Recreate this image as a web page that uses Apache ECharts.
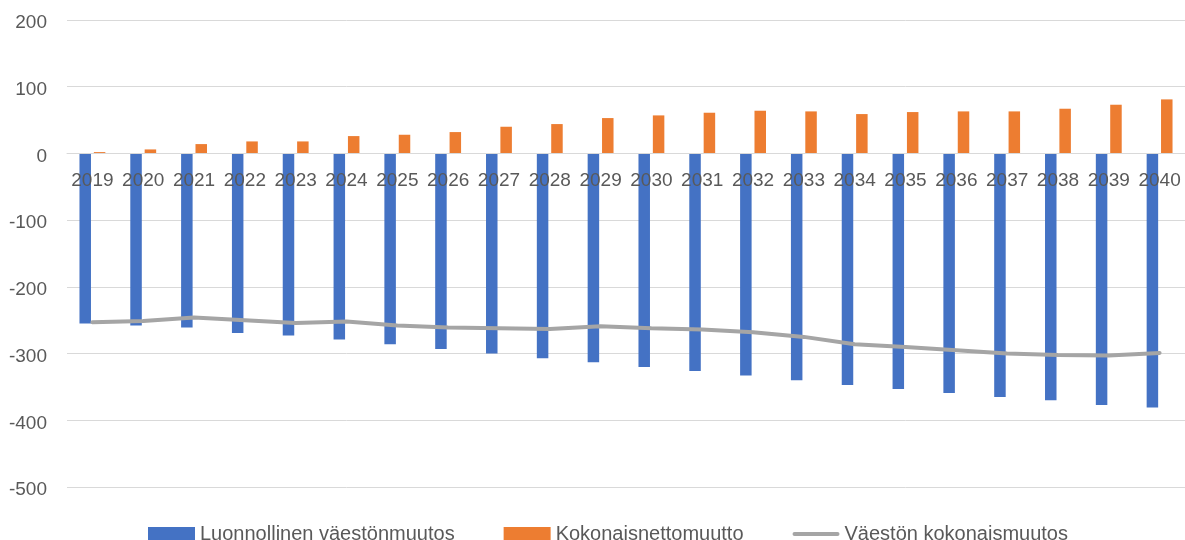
<!DOCTYPE html>
<html>
<head>
<meta charset="utf-8">
<script src="https://cdn.jsdelivr.net/npm/echarts@6/dist/echarts.min.js"></script>
<style>
html,body{margin:0;padding:0;background:#fff;}
#chart{width:1185px;height:540px;}
</style>
</head>
<body>
<div id="chart"></div>
<script>
const years = ['2019','2020','2021','2022','2023','2024','2025','2026','2027','2028','2029','2030','2031','2032','2033','2034','2035','2036','2037','2038','2039','2040'];
const luonnollinen = [-255,-258,-261,-269,-273,-279,-286,-293,-300,-307,-313,-320,-326,-333,-340,-347,-353,-359,-365,-370,-377,-381];
const nettomuutto = [2,6,14,18,18,26,28,32,40,44,53,57,61,64,63,59,62,63,63,67,73,81];
const kokonaismuutos = [-253,-251,-246,-250,-254,-252,-258,-261,-262,-263,-259,-262,-264,-268,-275,-286,-290,-295,-300,-302,-303,-299];
const seriesNames = ['Luonnollinen väestönmuutos','Kokonaisnettomuutto','Väestön kokonaismuutos'];
const yMin = -500, yMax = 200, yStep = 100;

const chart = echarts.init(document.getElementById('chart'), null, {renderer:'canvas'});
const font = 'Liberation Sans, Arial, sans-serif';
const gridTop = 20, gridBottom = 53;
const plotH = 540 - gridTop - gridBottom;
// offset moves x axis from bottom up to the zero line
const zeroOffset = -plotH * (0 - yMin) / (yMax - yMin);

chart.setOption({
  animation:false,
  backgroundColor:'#ffffff',
  grid:{left:67,right:-2,top:gridTop,bottom:gridBottom,containLabel:false},
  legend:{
    left:143, top:519,
    itemWidth:47, itemHeight:14, itemGap:49, itemTextGap:5,
    textStyle:{fontFamily:font,fontSize:20,color:'#595959'},
    data:[
      {name:seriesNames[0],icon:'rect'},
      {name:seriesNames[1],icon:'rect'},
      {name:seriesNames[2],icon:'path://M2,0h43a2,2 0 0 1 0,4h-43a2,2 0 0 1 0,-4z'}
    ]
  },
  xAxis:{
    type:'category',
    data:years,
    z:10,
    position:'bottom',
    offset:zeroOffset,
    axisLine:{onZero:false,lineStyle:{color:'#D9D9D9',width:1}},
    axisTick:{show:false},
    axisLabel:{color:'#595959',fontFamily:font,fontSize:19,margin:18,interval:0}
  },
  yAxis:{
    type:'value',
    min:yMin,max:yMax,interval:yStep,
    axisLine:{show:false},
    axisTick:{show:false},
    splitLine:{lineStyle:{color:'#D9D9D9',width:1}},
    axisLabel:{color:'#595959',fontFamily:font,fontSize:19,margin:20,verticalAlign:'top',lineHeight:6}
  },
  series:[
    {name:seriesNames[0],type:'bar',data:luonnollinen,barWidth:11.5,barGap:'25%',
     itemStyle:{color:'#4472C4'}},
    {name:seriesNames[1],type:'bar',data:nettomuutto,barWidth:11.5,barGap:'25%',
     itemStyle:{color:'#ED7D31'}},
    {name:seriesNames[2],type:'line',data:kokonaismuutos,symbol:'none',showSymbol:false,
     lineStyle:{color:'#A5A5A5',width:4,cap:'round'},itemStyle:{color:'#A5A5A5'},z:5}
  ]
});
</script>
</body>
</html>
